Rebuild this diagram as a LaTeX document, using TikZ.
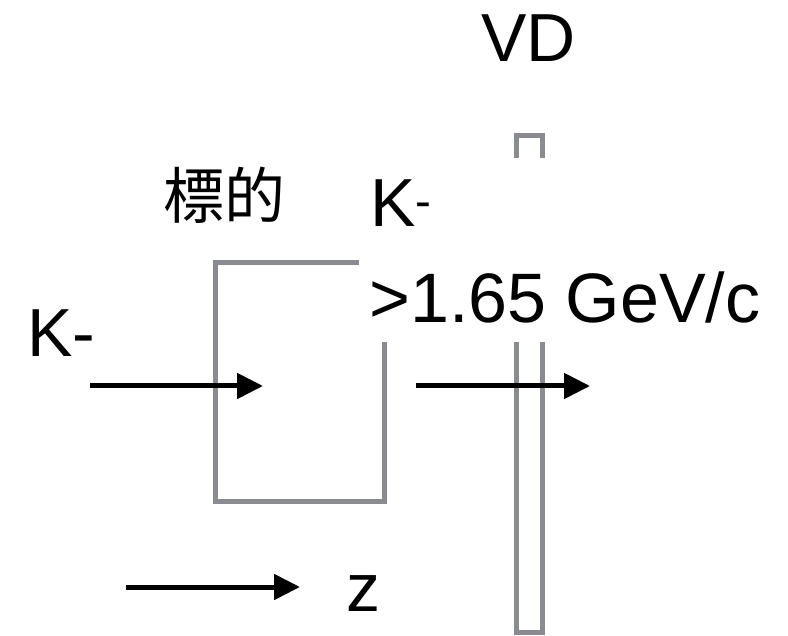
\documentclass[tikz,border=0pt]{standalone}
\usepackage{fontspec}
\setmainfont{Liberation Sans}
\newfontfamily\jpfont{Noto Sans CJK JP}
\usetikzlibrary{arrows.meta}
\definecolor{framegray}{RGB}{137,139,142}
\tikzset{
  frame/.style={draw=framegray, line width=5pt},
  beam/.style={line width=5pt, -{Triangle[length=26pt,width=25pt]}},
  lbl/.style={inner sep=0pt, font=\fontsize{68}{72}\selectfont},
  biglbl/.style={inner sep=0pt, font=\fontsize{70}{74}\selectfont},
  jlbl/.style={inner sep=0pt, font=\jpfont\fontsize{61}{66}\selectfont}
}
\begin{document}
\begin{tikzpicture}[x=1pt,y=-1pt]
\useasboundingbox (0,0) rectangle (788,636);
% target box
\coordinate (t1) at (359,263);
\coordinate (t2) at (215,263);
\coordinate (t3) at (215,502);
\coordinate (t4) at (384,502);
\coordinate (t5) at (384,342);
\draw[frame, line join=miter] (t1) -- (t2) -- (t3) -- (t4) -- (t5);
% VD
\coordinate (v1) at (516,158);
\coordinate (v2) at (516,136);
\coordinate (v3) at (542,136);
\coordinate (v4) at (542,158);
\coordinate (v5) at (516,342);
\coordinate (v6) at (516,632);
\coordinate (v7) at (542,632);
\coordinate (v8) at (542,342);
\draw[frame] (v1) -- (v2) -- (v3) -- (v4);
\draw[frame] (v5) -- (v6) -- (v7) -- (v8);
% labels
\node[lbl, anchor=base west] (vd) at (481,62) {VD};
\node[jlbl, anchor=center] (tgt) at (224,195) {標的};
\node[lbl, anchor=base west] (kout) at (370,227) {K\textsuperscript{-}};
\node[biglbl, anchor=base west] (mom) at (369,323) {>1.65 GeV/c};
\node[lbl, anchor=base west] (kin) at (27,357) {K-};
\node[lbl, anchor=base west] (z) at (346,611) {z};
% arrows
\coordinate (a1s) at (90,386);
\coordinate (a1e) at (263,386);
\coordinate (a2s) at (416,386);
\coordinate (a2e) at (590,386);
\coordinate (a3s) at (126,587);
\coordinate (a3e) at (300,587);
\draw[beam] (a1s) -- (a1e);
\draw[beam] (a2s) -- (a2e);
\draw[beam] (a3s) -- (a3e);
\end{tikzpicture}
\end{document}
